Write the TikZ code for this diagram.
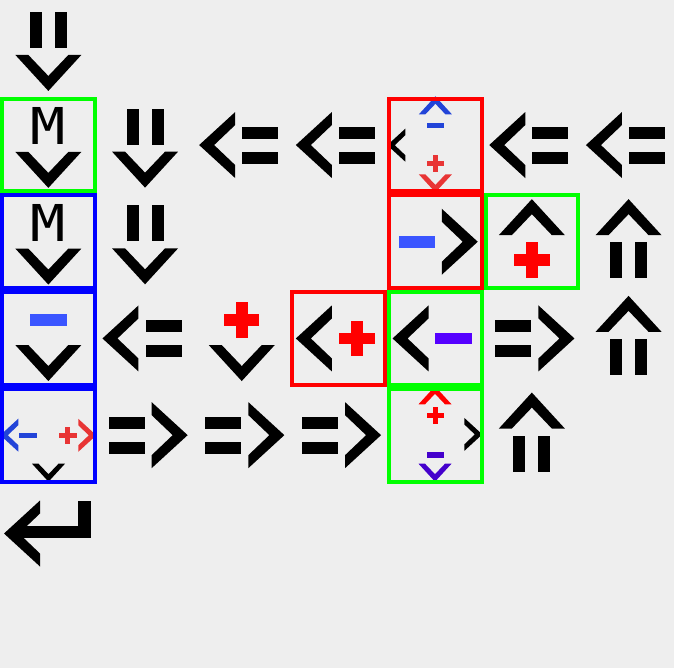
\documentclass[tikz,border=0pt]{standalone}
\usepackage{fontspec}
\newfontfamily\mfont{DejaVu Sans Mono}
\definecolor{bg}{HTML}{EEEEEE}
\definecolor{gboxc}{HTML}{00FF00}
\definecolor{bboxc}{HTML}{0000FF}
\definecolor{rboxc}{HTML}{FF0000}
\definecolor{opred}{HTML}{FF0000}
\definecolor{opblue}{HTML}{3A55FF}
\definecolor{oppurple}{HTML}{5500FF}
\definecolor{smred}{HTML}{E83535}
\definecolor{smblue}{HTML}{2244D8}
\definecolor{smpurple}{HTML}{4400CC}
\usetikzlibrary{calc}
\tikzset{
  gbox/.style={draw=gboxc, line width=4pt},
  bbox/.style={draw=bboxc, line width=4pt},
  rbox/.style={draw=rboxc, line width=4pt},
  mletter/.style={anchor=base, inner sep=0pt, text=black},
}
% chevron: ends-centre x, y, rotation, scale, colour (points down at rotation 0)
\newcommand\GChev[5]{%
  \fill[#5, shift={(#1,#2)}, rotate=#3, scale=#4]
    (-33,0) -- (0,36) -- (33,0) -- (20,0) -- (0,21) -- (-20,0) -- cycle;}
% plus: centre point, half length, half thickness, colour
\newcommand\GPlus[4]{%
  \fill[#4] ($(#1)+(-#2,-#3)$) rectangle ($(#1)+(#2,#3)$);
  \fill[#4] ($(#1)+(-#3,-#2)$) rectangle ($(#1)+(#3,#2)$);}
% minus: centre point, half length, half thickness, colour
\newcommand\GMinus[4]{%
  \fill[#4] ($(#1)+(-#2,-#3)$) rectangle ($(#1)+(#2,#3)$);}
% double arrow in cell col,row with rotation (0 down, 90 right, 180 up, -90 left)
\newcommand\GArrow[3]{%
  \begin{scope}[shift={(#1*96.7+48.35,#2*96.7+48.35)}, rotate=#3]
    \fill[black] (-18.5,-36.5) rectangle (-6.5,-0.5);
    \fill[black] (6.5,-36.5) rectangle (18.5,-0.5);
    \GChev{0}{6.6}{0}{1}{black}
  \end{scope}}
% operator + chevron in cell col,row, rotation, operator (p/m), colour
\newcommand\GOp[5]{%
  \begin{scope}[shift={(#1*96.7+48.35,#2*96.7+48.35)}, rotate=#3]
    \GChev{0}{6.6}{0}{1}{black}
    \coordinate (opc) at (0,-18.4);
  \end{scope}
  \ifx#4p\GPlus{opc}{17.7}{5.8}{#5}\else\GMinus{opc}{18.2}{5.8}{#5}\fi}
\newcommand\GBox[3]{%
  \draw[#3] (#1*96.7+2,#2*96.7+2) rectangle (#1*96.7+94.7,#2*96.7+94.7);}
\begin{document}
\begin{tikzpicture}[x=1pt,y=-1pt]
  \fill[bg] (0,0) rectangle (674,668);
  \useasboundingbox (0,0) rectangle (674,668);
  % row 0
  \GArrow{0}{0}{0}
  % row 1
  \node[mletter] (m1) at (48.35,145.0) {\scalebox{1.15}[1]{\fontsize{50.8}{50}\mfont M}};
  \GChev{48.35}{151.9}{0}{1}{black}
  \GArrow{1}{1}{0}
  \GArrow{2}{1}{-90}
  \GArrow{3}{1}{-90}
  \GArrow{5}{1}{-90}
  \GArrow{6}{1}{-90}
  % composite in row 1 col 4
  \GChev{405.3}{145.2}{-90}{0.5}{black}
  \GChev{435.4}{114.3}{180}{0.5}{smblue}
  \GMinus{435.5,125.5}{8.8}{2.8}{smblue}
  \GPlus{435.4,163.7}{8.8}{2.5}{smred}
  \GChev{435.4}{174.4}{0}{0.5}{smred}
  % row 2
  \node[mletter] (m2) at (48.35,241.7) {\scalebox{1.15}[1]{\fontsize{50.8}{50}\mfont M}};
  \GChev{48.35}{248.6}{0}{1}{black}
  \GArrow{1}{2}{0}
  \GOp{4}{2}{90}{m}{opblue}
  \GOp{5}{2}{180}{p}{opred}
  \GArrow{6}{2}{180}
  % row 3
  \GOp{0}{3}{0}{m}{opblue}
  \GArrow{1}{3}{-90}
  \GOp{2}{3}{0}{p}{opred}
  \GOp{3}{3}{-90}{p}{opred}
  \GOp{4}{3}{-90}{m}{oppurple}
  \GArrow{5}{3}{90}
  \GArrow{6}{3}{180}
  % row 4
  \GChev{18.3}{435.2}{-90}{0.5}{smblue}
  \GMinus{28.3,435.3}{9}{2.8}{smblue}
  \GPlus{67.8,435.5}{8.8}{2.5}{smred}
  \GChev{78.3}{435.3}{90}{0.5}{smred}
  \GChev{48.5}{463.7}{0}{0.5}{black}
  \GArrow{1}{4}{90}
  \GArrow{2}{4}{90}
  \GArrow{3}{4}{90}
  \GChev{435}{404.3}{180}{0.5}{opred}
  \GPlus{435.4,415.6}{8.8}{2.5}{opred}
  \GChev{464.3}{434.4}{90}{0.5}{black}
  \GMinus{435.5,454.9}{8.8}{2.8}{smpurple}
  \GChev{435}{463.7}{0}{0.5}{smpurple}
  \GArrow{5}{4}{180}
  % row 5: return arrow
  \GChev{40}{533.5}{-90}{1}{black}
  \fill[black] (15,525.7) rectangle (90.7,538);
  \fill[black] (78.3,501.3) rectangle (90.7,538);
  % boxes
  \GBox{0}{1}{gbox}
  \GBox{0}{2}{bbox}
  \GBox{0}{3}{bbox}
  \GBox{0}{4}{bbox}
  \GBox{4}{1}{rbox}
  \GBox{4}{2}{rbox}
  \GBox{5}{2}{gbox}
  \GBox{3}{3}{rbox}
  \GBox{4}{3}{gbox}
  \GBox{4}{4}{gbox}
\end{tikzpicture}
\end{document}
